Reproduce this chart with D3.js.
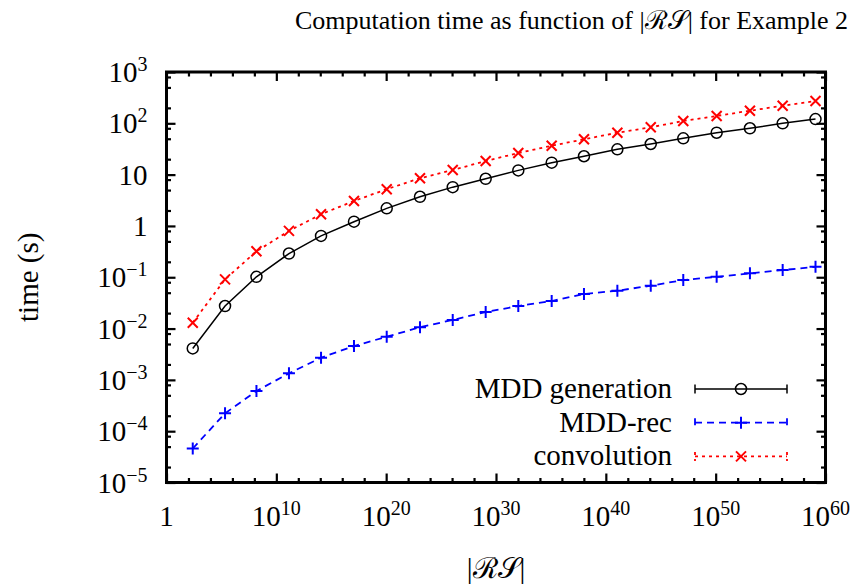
<!DOCTYPE html>
<html>
<head>
<meta charset="utf-8">
<script src="https://cdn.jsdelivr.net/npm/d3@7"></script>
<style>
  body { margin: 0; background: #fff; }
</style>
</head>
<body>
<div id="chart"></div>
<script>
const width = 857;
const height = 585;
const margin = { top: 72, right: 31.5, bottom: 102.5, left: 166.5 };

// x values are given as powers of ten (|RS| = 10^e)
const xExponents = [2.39, 5.33, 8.19, 11.15, 14.07, 17.07, 20.05, 23.08, 26.06, 29.06,
                    32.03, 35.07, 38.01, 41.05, 44.09, 47.05, 50.09, 53.12, 56.10, 59.09];
const mddGeneration = [0.0041, 0.0275, 0.102, 0.29, 0.64, 1.21, 2.2, 3.7, 5.7, 8.3,
                       12.1, 17.1, 22.8, 31.1, 39.5, 51, 65.6, 80, 100, 121];
const mddRec = [4.6e-5, 2.23e-4, 6.07e-4, 1.34e-3, 2.7e-3, 4.57e-3, 6.93e-3, 0.0106, 0.0147, 0.021,
                0.0275, 0.0344, 0.0471, 0.0547, 0.0684, 0.0883, 0.102, 0.119, 0.138, 0.160];
const convolution = [0.013, 0.091, 0.32, 0.80, 1.69, 3.06, 5.2, 8.5, 12.3, 18.4,
                     26.4, 36.6, 48.8, 65.6, 83.6, 111, 139, 176, 220, 272];

const xTickExp = [0, 10, 20, 30, 40, 50, 60];
const yTickExp = [-5, -4, -3, -2, -1, 0, 1, 2, 3];

const seriesNames = ["MDD generation", "MDD-rec", "convolution"];

const serif = "'Liberation Serif', 'DejaVu Serif', serif";

const svg = d3.select("#chart")
  .append("svg")
  .attr("width", width)
  .attr("height", height)
  .attr("font-family", serif);

const innerW = width - margin.left - margin.right;
const innerH = height - margin.top - margin.bottom;

const x = d3.scaleLog().domain([1, 1e60]).range([margin.left, margin.left + innerW]);
const y = d3.scaleLog().domain([1e-5, 1e3]).range([margin.top + innerH, margin.top]);

// tick values
const xMajor = xTickExp.map(e => Math.pow(10, e));
const xMinor = d3.range(0, 61, 2).filter(e => e % 10 !== 0).map(e => Math.pow(10, e));
const yMajor = yTickExp.map(e => Math.pow(10, e));
const yMinor = [];
yTickExp.slice(0, -1).forEach(e => [2, 5, 8].forEach(m => yMinor.push(m * Math.pow(10, e))));

function styleAxis(g) {
  g.select(".domain").remove();
  g.selectAll(".tick line").attr("stroke", "#000").attr("stroke-width", 2.2);
  g.selectAll(".tick text").remove();
}

// ticks drawn inward on all four sides
const bottomY = margin.top + innerH;
const rightX = margin.left + innerW;
[[xMajor, 9], [xMinor, 4.5]].forEach(([vals, len]) => {
  svg.append("g").attr("transform", `translate(0,${bottomY})`)
    .call(d3.axisBottom(x).tickValues(vals).tickSize(-len)).call(styleAxis);
  svg.append("g").attr("transform", `translate(0,${margin.top})`)
    .call(d3.axisTop(x).tickValues(vals).tickSize(-len)).call(styleAxis);
});
[[yMajor, 9], [yMinor, 4.5]].forEach(([vals, len]) => {
  svg.append("g").attr("transform", `translate(${margin.left},0)`)
    .call(d3.axisLeft(y).tickValues(vals).tickSize(-len)).call(styleAxis);
  svg.append("g").attr("transform", `translate(${rightX},0)`)
    .call(d3.axisRight(y).tickValues(vals).tickSize(-len)).call(styleAxis);
});

// frame
svg.append("rect")
  .attr("x", margin.left)
  .attr("y", margin.top)
  .attr("width", innerW)
  .attr("height", innerH)
  .attr("fill", "none")
  .attr("stroke", "#000")
  .attr("stroke-width", 3);

// tick labels with superscripts
const fs = 29;
function powLabel(sel, e) {
  if (e === 0) { sel.text("1"); return; }
  if (e === 1) { sel.text("10"); return; }
  sel.append("tspan").text("10");
  sel.append("tspan")
    .attr("dy", -11)
    .attr("font-size", 20)
    .text(e < 0 ? "\u2212" + (-e) : e);
}

svg.append("g").selectAll("text")
  .data(xTickExp)
  .join("text")
  .attr("x", d => x(Math.pow(10, d)))
  .attr("y", bottomY + 43)
  .attr("text-anchor", "middle")
  .attr("font-family", serif)
  .attr("font-size", fs)
  .each(function(d) { powLabel(d3.select(this), d); });

svg.append("g").selectAll("text")
  .data(yTickExp)
  .join("text")
  .attr("x", margin.left - 19)
  .attr("y", d => y(Math.pow(10, d)) + 10)
  .attr("text-anchor", "end")
  .attr("font-family", serif)
  .attr("font-size", fs)
  .each(function(d) { powLabel(d3.select(this), d); });

// axis titles and title
svg.append("text")
  .attr("transform", `translate(38,${margin.top + innerH / 2}) rotate(-90)`)
  .attr("text-anchor", "middle")
  .attr("font-family", serif)
  .attr("font-size", fs)
  .text("time (s)");

const xl = svg.append("text")
  .attr("x", margin.left + innerW / 2)
  .attr("y", 578)
  .attr("text-anchor", "middle")
  .attr("font-family", serif)
  .attr("font-size", fs);
xl.append("tspan").text("|");
xl.append("tspan").text("\u211B\uD835\uDCAE");
xl.append("tspan").text("|");

const tl = svg.append("text")
  .attr("x", 295)
  .attr("y", 29)
  .attr("text-anchor", "start")
  .attr("font-family", serif)
  .attr("font-size", 26);
tl.append("tspan").text("Computation time as function of |");
tl.append("tspan").text("\u211B\uD835\uDCAE");
tl.append("tspan").text("| for Example 2");

// series
const series = [
  { name: seriesNames[0], values: mddGeneration, color: "#000", dash: null, width: 1.5, marker: "circle" },
  { name: seriesNames[1], values: mddRec, color: "#0000ff", dash: "7,5", width: 1.8, marker: "plus" },
  { name: seriesNames[2], values: convolution, color: "#ff0000", dash: "3,4", width: 1.8, marker: "cross" }
];

const line = d3.line()
  .x(d => x(Math.pow(10, d[0])))
  .y(d => y(d[1]));

function drawMarker(g, type, color, cx, cy) {
  if (type === "circle") {
    g.append("circle").attr("cx", cx).attr("cy", cy).attr("r", 5.5)
      .attr("fill", "none").attr("stroke", color).attr("stroke-width", 1.5);
  } else if (type === "plus") {
    g.append("path").attr("d", `M${cx - 6},${cy}H${cx + 6}M${cx},${cy - 6}V${cy + 6}`)
      .attr("stroke", color).attr("stroke-width", 2);
  } else {
    g.append("path").attr("d", `M${cx - 5},${cy - 5}L${cx + 5},${cy + 5}M${cx - 5},${cy + 5}L${cx + 5},${cy - 5}`)
      .attr("stroke", color).attr("stroke-width", 2);
  }
}

series.slice().reverse().forEach(s => {
  const pts = xExponents.map((e, i) => [e, s.values[i]]);
  const g = svg.append("g");
  g.append("path")
    .datum(pts)
    .attr("d", line)
    .attr("fill", "none")
    .attr("stroke", s.color)
    .attr("stroke-width", s.width)
    .attr("stroke-dasharray", s.dash);
  pts.forEach(p => drawMarker(g, s.marker, s.color, x(Math.pow(10, p[0])), y(p[1])));
});

// legend
const legX1 = 695, legX2 = 787, legTextX = 672;
series.forEach((s, i) => {
  const ly = 389 + i * 33.7;
  const g = svg.append("g");
  g.append("text")
    .attr("x", legTextX)
    .attr("y", ly + 9)
    .attr("text-anchor", "end")
    .attr("font-family", serif)
    .attr("font-size", fs)
    .text(s.name);
  g.append("path")
    .attr("d", `M${legX1},${ly}H${legX2}M${legX1},${ly - 4.5}V${ly + 4.5}M${legX2},${ly - 4.5}V${ly + 4.5}`)
    .attr("fill", "none")
    .attr("stroke", s.color)
    .attr("stroke-width", s.width)
    .attr("stroke-dasharray", s.dash);
  drawMarker(g, s.marker, s.color, (legX1 + legX2) / 2, ly);
});
</script>
</body>
</html>
